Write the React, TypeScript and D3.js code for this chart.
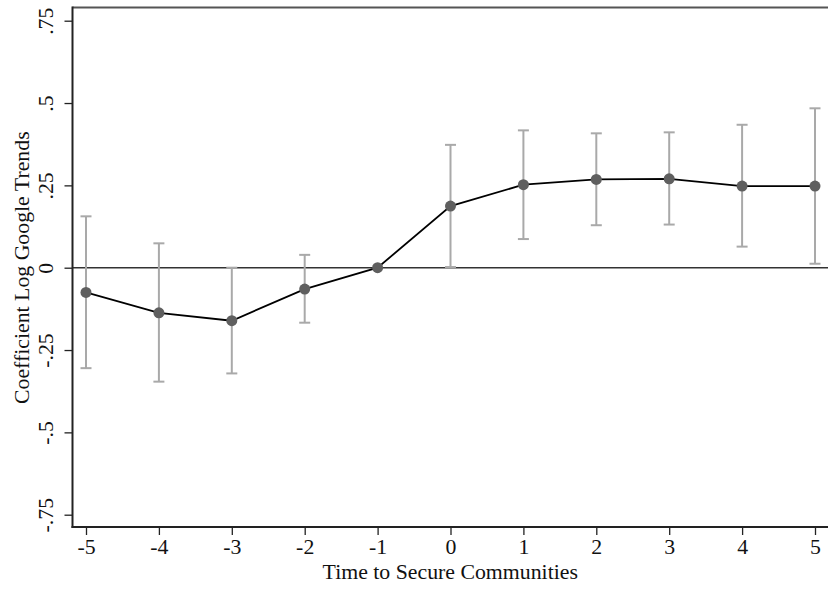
import React, { useRef, useEffect } from 'react';
import { select, scaleLinear, axisBottom, axisLeft, line } from 'd3';

// event time, point estimate, 95% CI
const periods = [-5, -4, -3, -2, -1, 0, 1, 2, 3, 4, 5];
const coefs = [-0.075, -0.137, -0.161, -0.065, 0, 0.187, 0.252, 0.268, 0.27, 0.248, 0.248];
const ciLow = [-0.305, -0.346, -0.321, -0.167, 0, 0.002, 0.087, 0.129, 0.131, 0.064, 0.012];
const ciHigh = [0.156, 0.074, 0.0, 0.039, 0, 0.373, 0.417, 0.408, 0.411, 0.434, 0.484];

const yTicks = [-0.75, -0.5, -0.25, 0, 0.25, 0.5, 0.75];
const yTickLabels = ['-.75', '-.5', '-.25', '0', '.25', '.5', '.75'];

const W = 828;
const H = 591;
const FONT = '"Liberation Serif", "Times New Roman", serif';
const FS = '21.8px';

export default function App() {
  const svgRef = useRef<SVGSVGElement>(null);

  useEffect(() => {
    const svg = select(svgRef.current);
    svg.selectAll('*').remove();

    const left = 72.5;
    const bottom = 527;
    const top = 7.5;

    const x = scaleLinear().domain([-5, 5]).range([86, 815]);
    const y = scaleLinear().domain([-0.75, 0.75]).range([514.7, 20.7]);

    // top border of plot region
    svg
      .append('line')
      .attr('x1', left)
      .attr('x2', W)
      .attr('y1', top)
      .attr('y2', top)
      .attr('stroke', '#555')
      .attr('stroke-width', 2);

    // zero reference line
    svg
      .append('line')
      .attr('x1', left)
      .attr('x2', W)
      .attr('y1', y(0))
      .attr('y2', y(0))
      .attr('stroke', '#333')
      .attr('stroke-width', 1.6);

    // x axis
    const xAxis = axisBottom(x)
      .tickValues(periods)
      .tickFormat((d) => String(d))
      .tickSize(8)
      .tickSizeOuter(0);
    const gx = svg.append('g').attr('transform', `translate(0,${bottom})`).call(xAxis);
    gx.select('.domain').remove();
    gx.selectAll('.tick line').attr('stroke', '#222').attr('stroke-width', 1.3);
    gx.selectAll('.tick text')
      .attr('fill', '#111')
      .attr('y', 12)
      .attr('dy', '0.71em')
      .style('font-family', FONT)
      .style('font-size', FS);
    svg
      .append('line')
      .attr('x1', left - 1)
      .attr('x2', W)
      .attr('y1', bottom)
      .attr('y2', bottom)
      .attr('stroke', '#222')
      .attr('stroke-width', 2);

    // y axis
    const yAxis = axisLeft(y)
      .tickValues(yTicks)
      .tickFormat((d, i) => yTickLabels[i])
      .tickSize(8)
      .tickSizeOuter(0);
    const gy = svg.append('g').attr('transform', `translate(${left},0)`).call(yAxis);
    gy.select('.domain').remove();
    gy.selectAll('.tick line').attr('stroke', '#222').attr('stroke-width', 1.3);
    gy.selectAll('.tick text')
      .attr('fill', '#111')
      .attr('x', 0)
      .attr('dy', 0)
      .attr('text-anchor', 'middle')
      .attr('transform', 'translate(-19.5,0) rotate(-90)')
      .style('font-family', FONT)
      .style('font-size', FS);
    svg
      .append('line')
      .attr('x1', left)
      .attr('x2', left)
      .attr('y1', top - 1)
      .attr('y2', bottom + 1)
      .attr('stroke', '#222')
      .attr('stroke-width', 2);

    // axis titles
    svg
      .append('text')
      .attr('x', (left + W) / 2)
      .attr('y', 579)
      .attr('text-anchor', 'middle')
      .attr('fill', '#111')
      .style('font-family', FONT)
      .style('font-size', FS)
      .text('Time to Secure Communities');
    svg
      .append('text')
      .attr('transform', `translate(28.5,${y(0)}) rotate(-90)`)
      .attr('text-anchor', 'middle')
      .attr('fill', '#111')
      .style('font-family', FONT)
      .style('font-size', FS)
      .text('Coefficient Log Google Trends');

    // confidence intervals
    const ci = svg.append('g');
    periods.forEach((p, i) => {
      if (ciLow[i] === ciHigh[i]) return;
      const cx = x(p);
      ci.append('line')
        .attr('x1', cx)
        .attr('x2', cx)
        .attr('y1', y(ciLow[i]))
        .attr('y2', y(ciHigh[i]))
        .attr('stroke', '#a9a9a9')
        .attr('stroke-width', 2);
      [ciLow[i], ciHigh[i]].forEach((v) => {
        ci.append('line')
          .attr('x1', cx - 5.5)
          .attr('x2', cx + 5.5)
          .attr('y1', y(v))
          .attr('y2', y(v))
          .attr('stroke', '#a9a9a9')
          .attr('stroke-width', 2);
      });
    });

    // connecting line
    const pts: [number, number][] = periods.map((p, i) => [p, coefs[i]]);
    const path = line<[number, number]>()
      .x((d) => x(d[0]))
      .y((d) => y(d[1]));
    svg
      .append('path')
      .attr('d', path(pts))
      .attr('fill', 'none')
      .attr('stroke', '#000')
      .attr('stroke-width', 1.8);

    // markers
    svg
      .append('g')
      .selectAll('circle')
      .data(pts)
      .enter()
      .append('circle')
      .attr('cx', (d) => x(d[0]))
      .attr('cy', (d) => y(d[1]))
      .attr('r', 5.5)
      .attr('fill', '#5f5f5f');
  }, []);

  return (
    <svg
      ref={svgRef}
      width={W}
      height={H}
      style={{ position: 'absolute', left: 0, top: 0, background: '#fff' }}
    ></svg>
  );
}
